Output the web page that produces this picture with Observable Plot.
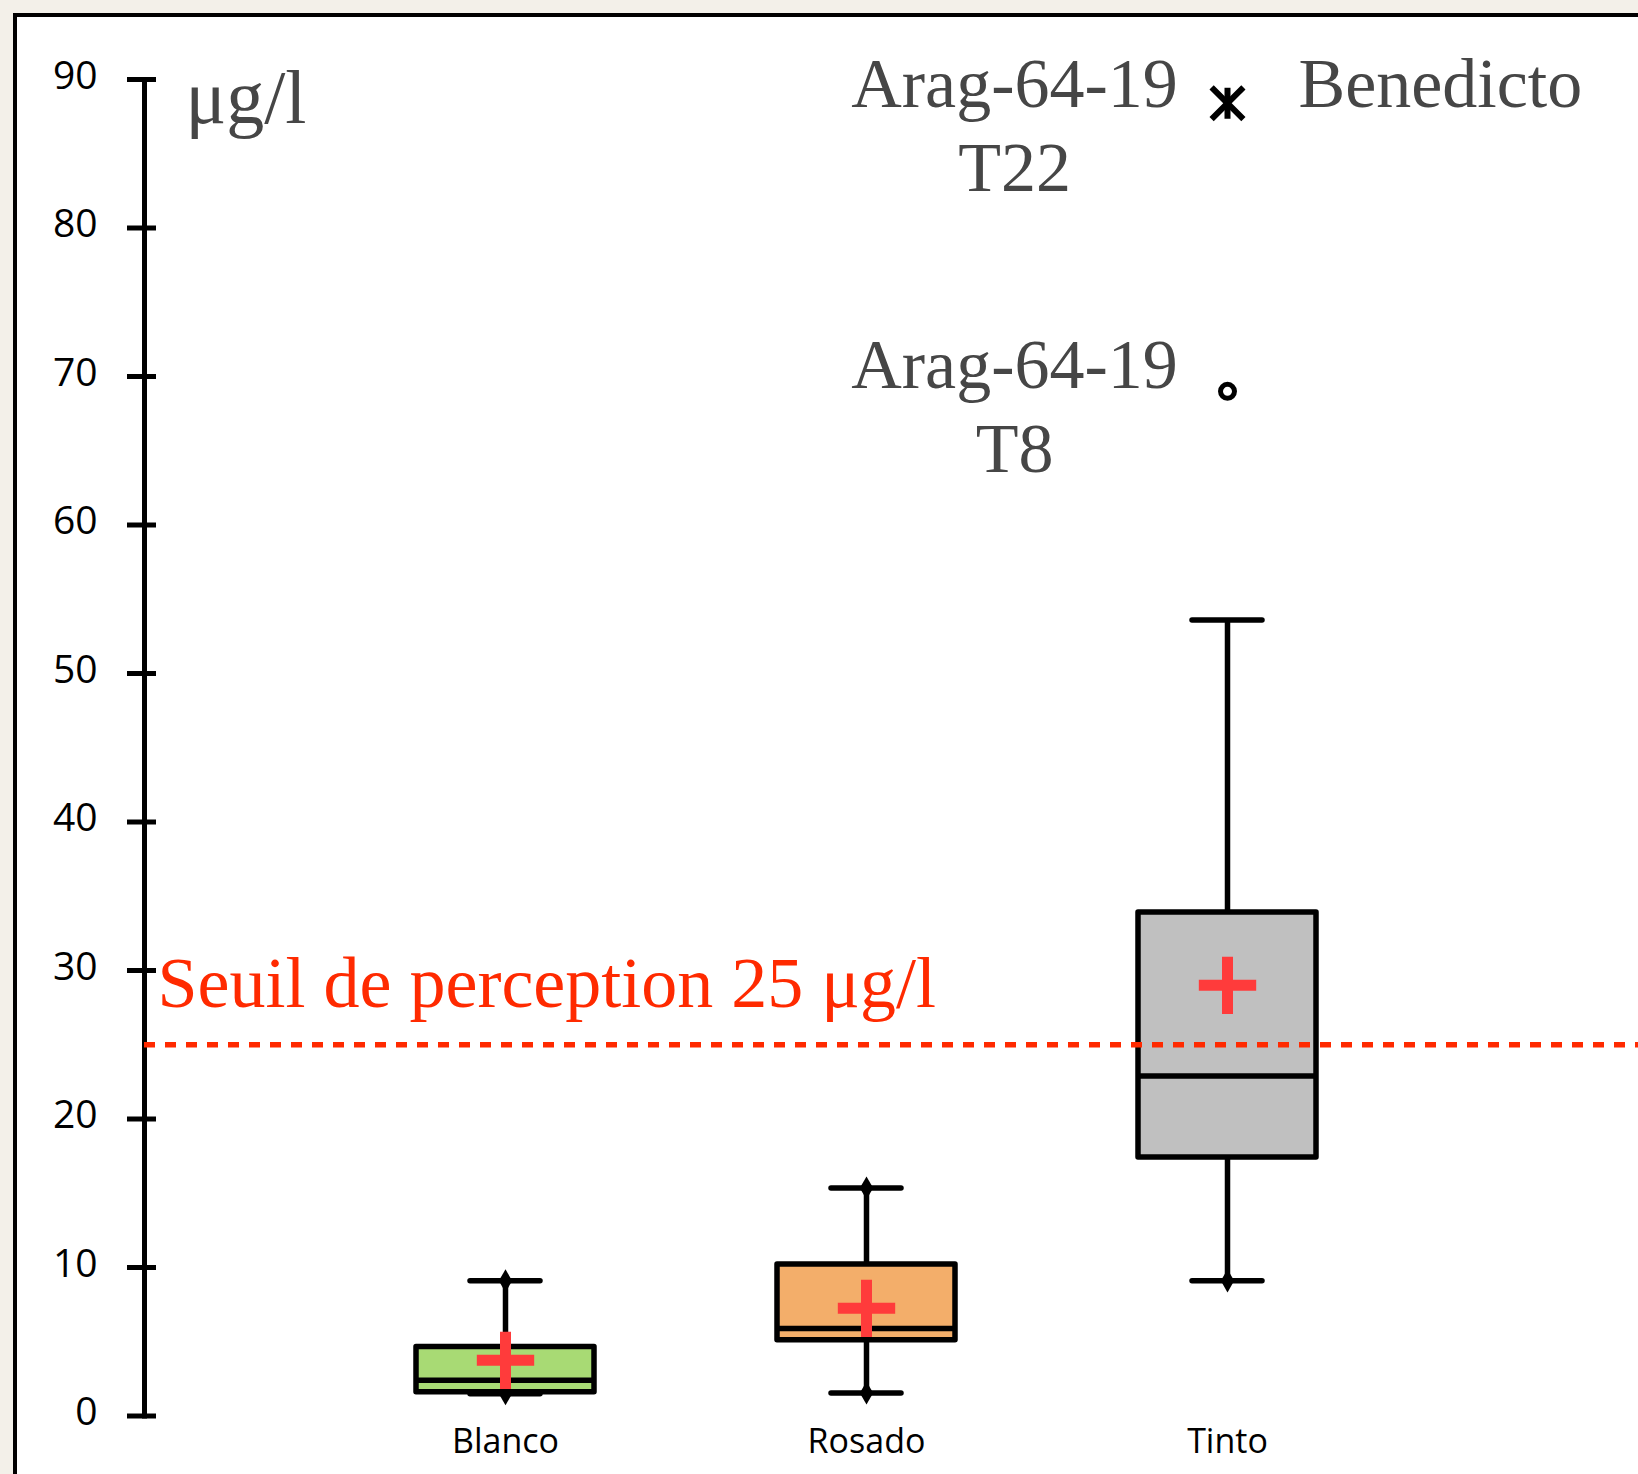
<!DOCTYPE html>
<html><head><meta charset="utf-8">
<script src="https://cdn.jsdelivr.net/npm/d3@7"></script>
<script src="https://cdn.jsdelivr.net/npm/@observablehq/plot@0.6"></script>
<style>
html,body{margin:0;padding:0;background:#f3f0e9;width:1638px;height:1474px;overflow:hidden;}
#panel{position:absolute;left:13px;top:13px;width:1625px;height:1461px;background:#fff;border-left:4px solid #000;border-top:4px solid #000;box-sizing:border-box;}
#panel svg{display:block;}
</style></head><body><div id="panel"></div>
<script>
const categories = ["Blanco", "Rosado", "Tinto"];
const minVals = [1.5, 1.55, 9.1];
const q1Vals = [1.6, 5.1, 17.4];
const medianVals = [2.4, 5.9, 22.9];
const q3Vals = [4.65, 10.2, 33.9];
const maxVals = [9.1, 15.35, 53.6];
const meanVals = [3.75, 7.25, 29.0];
const boxColors = ["#a8da74", "#f3ae6a", "#c0c0c0"];
const minDiamond = [true, true, true];
const maxDiamond = [true, true, false];
const outlierCategories = ["Tinto", "Tinto"];
const outlierValues = [69.0, 88.4];
const outlierLabels = ["Arag-64-19\nT8", "Arag-64-19\nT22"];
const extremeLabel = "Benedicto";
const threshold = 25;
const thresholdLabel = "Seuil de perception 25 μg/l";
const unitLabel = "μg/l";
const yTicks = [0, 10, 20, 30, 40, 50, 60, 70, 80, 90];

const idx = categories.map((_, i) => i);
const cat = i => categories[i];
const serif = "'Liberation Serif', 'DejaVu Serif', serif";
const sans = "'Open Sans', 'Liberation Sans', sans-serif";
const gray = "#464646";
const red = "#ff2a00";
const sw = 5.5;

const vline = {draw(ctx, size) { const r = Math.sqrt(size / Math.PI); ctx.moveTo(0, -r); ctx.lineTo(0, r); }};

const outlierText = (i, dy) => Plot.text([i], {x: j => outlierCategories[j], y: j => outlierValues[j], text: j => outlierLabels[j], textAnchor: "middle", lineAnchor: "top", lineHeight: 1.2, dx: -213, dy, fontSize: 70, fontFamily: serif, fill: gray});

const chart = Plot.plot({
  width: 1621,
  height: 1457,
  marginLeft: 127,
  marginTop: 62,
  marginBottom: 58.5,
  marginRight: 0,
  style: {background: "transparent", color: "#000", fontFamily: sans, overflow: "visible"},
  x: {type: "band", domain: categories, range: [307.5, 1390.5], paddingInner: 0.507, paddingOuter: 0.2535, label: null},
  y: {domain: [0, 90], label: null},
  color: {type: "identity"},
  marks: [
    Plot.frame({anchor: "left", stroke: "#000", strokeWidth: 5}),
    Plot.axisY({ticks: yTicks, tickSize: 29, dx: 12, strokeWidth: 5, tickFormat: () => "", label: null}),
    Plot.axisY({ticks: yTicks, tickSize: 0, tickPadding: 47, dy: -3, fontSize: 39, fontFamily: sans, tickFormat: d => String(d), label: null}),
    Plot.axisX({tickSize: 0, tickPadding: 13, fontSize: 34, fontFamily: sans, label: null}),
    // whiskers
    Plot.ruleX(idx, {x: cat, y1: i => minVals[i], y2: i => maxVals[i], stroke: "#000", strokeWidth: sw}),
    Plot.tickY(idx, {x: cat, y: i => maxVals[i], stroke: "#000", strokeWidth: sw, inset: 54, strokeLinecap: "round"}),
    Plot.tickY(idx, {x: cat, y: i => minVals[i], stroke: "#000", strokeWidth: sw, inset: 54, strokeLinecap: "round"}),
    // boxes
    Plot.barY(idx, {x: cat, y1: i => q1Vals[i], y2: i => q3Vals[i], fill: i => boxColors[i], stroke: "#000", strokeWidth: sw, strokeLinejoin: "round"}),
    Plot.tickY(idx, {x: cat, y: i => medianVals[i], stroke: "#000", strokeWidth: sw}),
    // diamonds
    Plot.dot(idx.filter(i => maxDiamond[i]), {x: cat, y: i => maxVals[i], symbol: "diamond", fill: "#000", r: 7}),
    Plot.dot(idx.filter(i => minDiamond[i]), {x: cat, y: i => minVals[i], symbol: "diamond", fill: "#000", r: 7}),
    // threshold
    Plot.ruleY([threshold], {stroke: red, strokeWidth: 5.5, strokeDasharray: "11,10"}),
    // means
    Plot.dot(idx, {x: cat, y: i => meanVals[i], symbol: "plus", fill: "none", stroke: "#ff3b3b", strokeWidth: 11, r: 18.5}),
    // outliers
    Plot.dot([0], {x: i => outlierCategories[i], y: i => outlierValues[i], symbol: "circle", r: 7, fill: "#fff", stroke: "#000", strokeWidth: 5}),
    Plot.dot([1], {x: i => outlierCategories[i], y: i => outlierValues[i], symbol: "times", r: 14.5, fill: "none", stroke: "#000", strokeWidth: 6}),
    Plot.dot([1], {x: i => outlierCategories[i], y: i => outlierValues[i], symbol: vline, r: 15.5, fill: "none", stroke: "#000", strokeWidth: 6}),
    // labels
    outlierText(0, -63),
    outlierText(1, -56),
    Plot.text([1], {x: i => outlierCategories[i], y: i => outlierValues[i], text: () => extremeLabel, textAnchor: "start", lineAnchor: "middle", dx: 71, dy: -19, fontSize: 70, fontFamily: serif, fill: gray}),
    Plot.text([unitLabel], {frameAnchor: "top-left", text: d => d, textAnchor: "start", lineAnchor: "top", dx: 41, dy: -10, fontSize: 76, fontFamily: serif, fill: gray}),
    Plot.text([thresholdLabel], {frameAnchor: "left", y: () => threshold, text: d => d, textAnchor: "start", lineAnchor: "bottom", dx: 13, dy: -38, fontSize: 72, fontFamily: serif, fill: red})
  ]
});
document.getElementById("panel").appendChild(chart);
</script>
</body></html>
